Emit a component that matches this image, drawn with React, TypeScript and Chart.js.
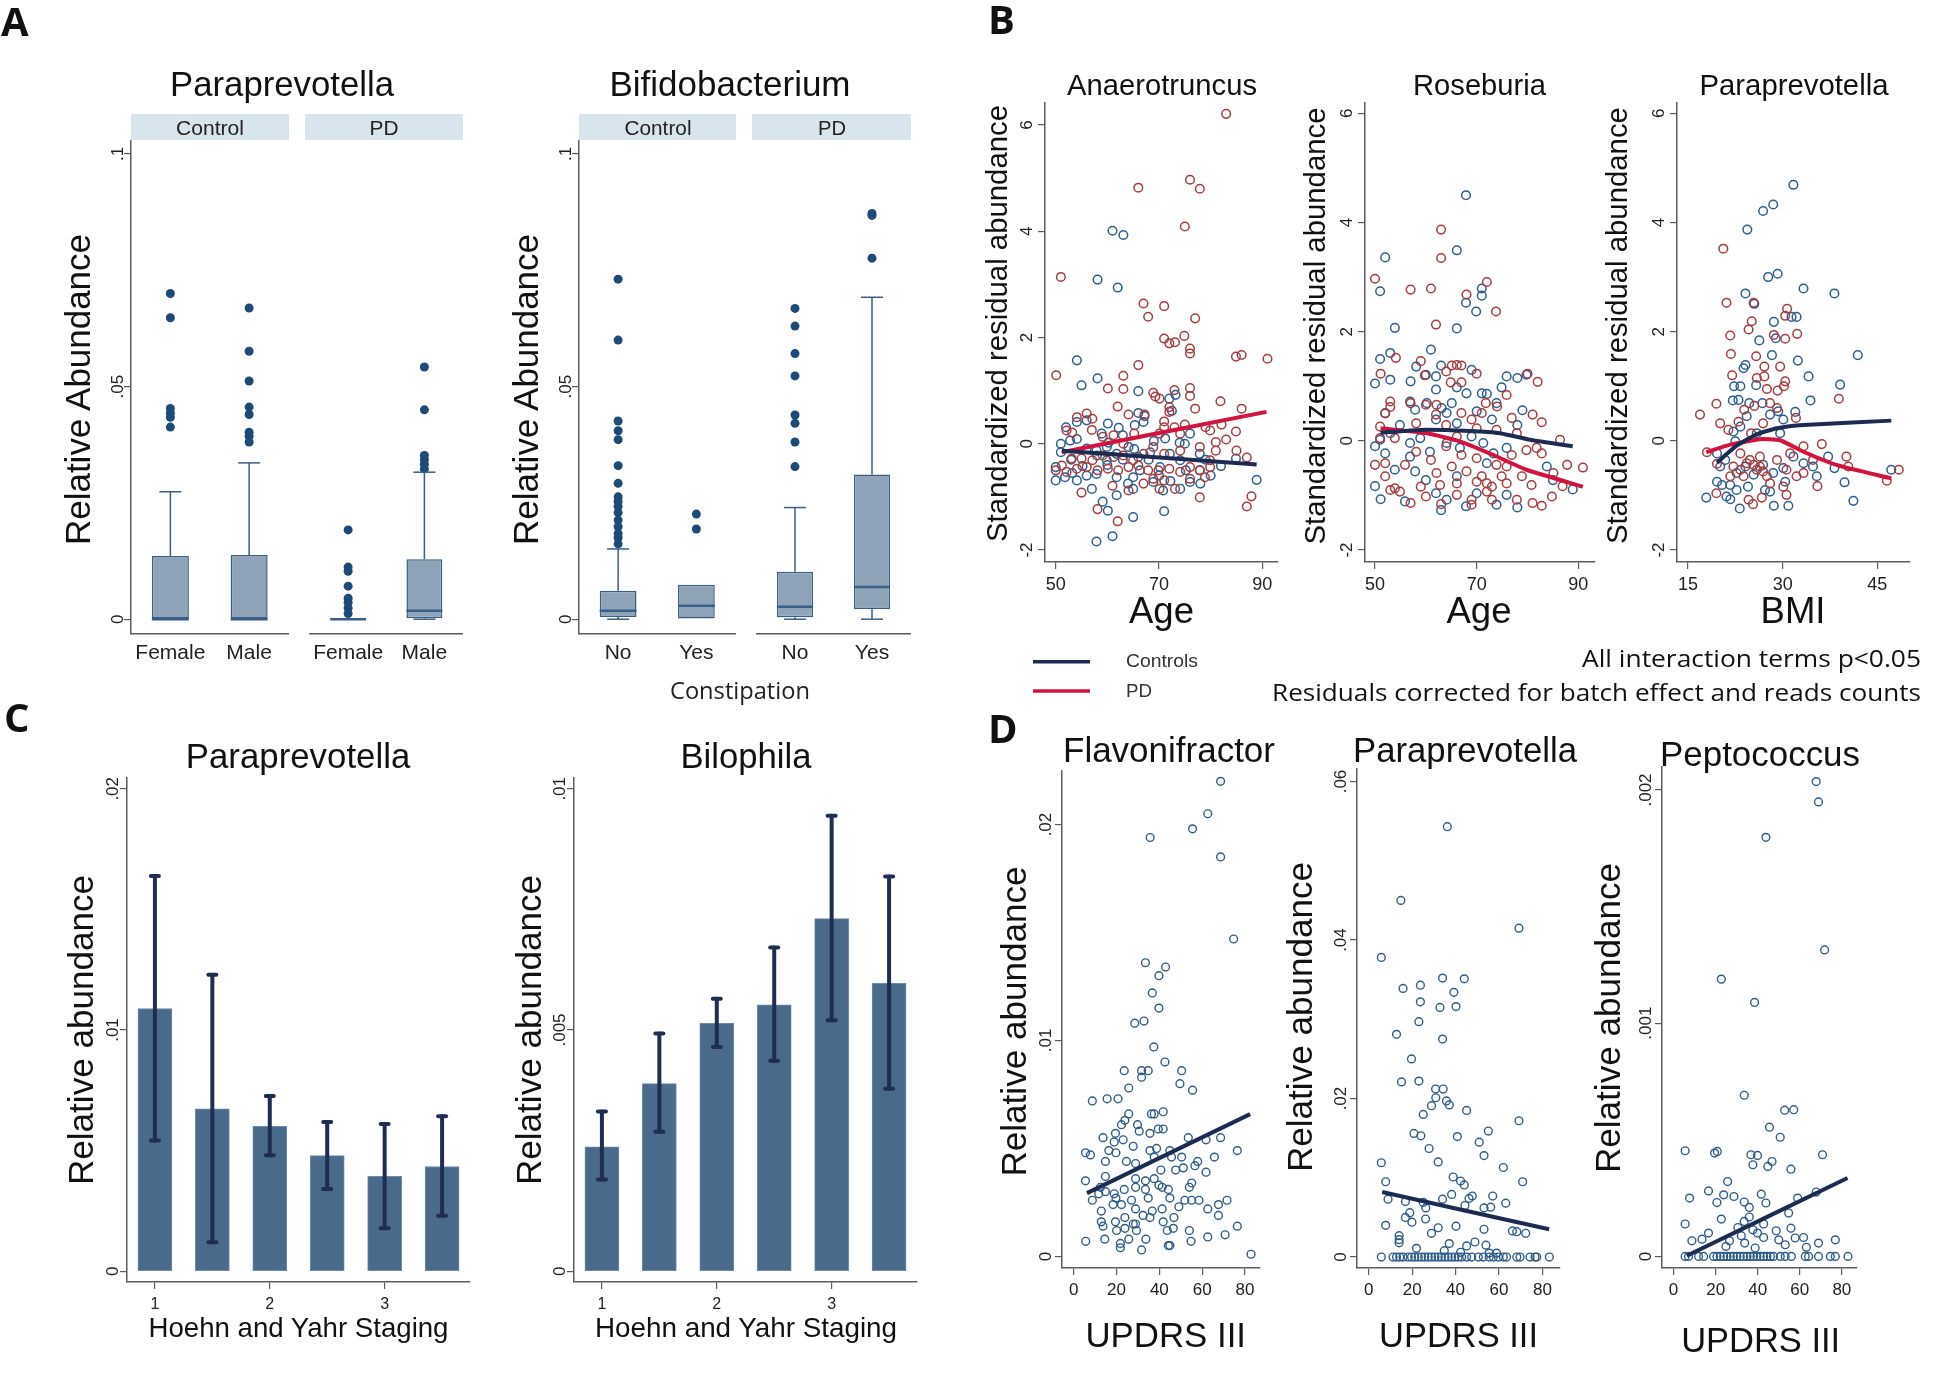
import React, { useEffect, useRef } from 'react';
import { Chart, registerables } from 'chart.js';

Chart.register(...registerables);

type Pt = [number, number];
type Area = { x: number; y: number; w: number; h: number };
type Pad = { l: number; r: number; t: number; b: number };

const FONT = '"Liberation Sans", Arial, sans-serif';
const CAL = '"Open Sans", "Noto Sans", sans-serif';

// ---------------- colours ----------------
const AXIS = '#5c5c5c';
const TICKTXT = '#222222';
const BOX_FILL = '#8fa3b8';
const BOX_LINE = '#3a5f86';
const OUT_DOT = '#1e4a76';
const STRIP = '#d9e5ec';
const BLUE = '#2c5e8e';
const RED = '#a63c40';
const NAVY = '#1c2b52';
const CRIMSON = '#d3123e';
const DBLUE = '#2f5c87';
const BAR = '#496a8b';
const BAR_EDGE = '#6d8aa6';
const ERR = '#1f2d52';

// ---------------- DATA: panel A (box plots) ----------------
const aYTicks = [0, 0.05, 0.1];
const aYLabels = ['0', '.05', '.1'];

const sexCats = ['Female', 'Male'];
const paraCtrlQ1 = [0, 0];
const paraCtrlMed = [0, 0];
const paraCtrlQ3 = [0.0136, 0.0138];
const paraCtrlLo = [0, 0];
const paraCtrlHi = [0.0274, 0.0336];
const paraCtrlOut = [
  [0.07, 0.0648, 0.0453, 0.0443, 0.0434, 0.0413],
  [0.0669, 0.0576, 0.0512, 0.0456, 0.044, 0.0402, 0.0393, 0.0381],
];
const paraPdQ1 = [0, 0.0002];
const paraPdMed = [0, 0.0018];
const paraPdQ3 = [0, 0.0129];
const paraPdLo = [0, 0];
const paraPdHi = [0, 0.0316];
const paraPdOut = [
  [0.0192, 0.0112, 0.0103, 0.0071, 0.0045, 0.0036, 0.0024, 0.0012],
  [0.0542, 0.045, 0.0352, 0.0343, 0.0333, 0.0323],
];

const constCats = ['No', 'Yes'];
const bifCtrlQ1 = [0.0005, 0];
const bifCtrlMed = [0.0018, 0.0029];
const bifCtrlQ3 = [0.0061, 0.0074];
const bifCtrlLo = [0, 0];
const bifCtrlHi = [0.0151, 0.0074];
const bifCtrlOut = [
  [0.0731, 0.06, 0.0426, 0.0405, 0.0386, 0.033, 0.0292, 0.0263, 0.0253, 0.0242, 0.0229, 0.0213, 0.0199, 0.0184, 0.0175, 0.0162],
  [0.0226, 0.0194],
];
const bifPdQ1 = [0.0004, 0.0022];
const bifPdMed = [0.0027, 0.0069];
const bifPdQ3 = [0.0102, 0.0311];
const bifPdLo = [0, 0];
const bifPdHi = [0.024, 0.0692];
const bifPdOut = [
  [0.0668, 0.063, 0.0571, 0.0523, 0.0439, 0.0421, 0.0381, 0.0328],
  [0.0872, 0.0868, 0.0776],
];

// ---------------- DATA: panel B (residual scatter) ----------------
const bYTicks = [-2, 0, 2, 4, 6];
const bYLabels = ['-2', '0', '2', '4', '6'];
const ageTicks = [50, 70, 90];
const bmiTicks = [15, 30, 45];

const anaeroCtrl: Pt[] = [
  [57.9, -1.84], [61.0, -1.74], [65.0, -1.38], [71.0, -1.27], [60.1, -1.26], [59.1, -1.09], [88.9, -0.68], [84.9, -0.28],
  [61.0, 4.01], [63.1, 3.93], [58.1, 3.09], [62.0, 2.94], [54.1, 1.57], [55.0, 1.1], [58.1, 1.23], [66.0, 0.99], [72.0, 0.85],
  [66.0, 0.58], [67.0, 0.41], [60.1, 0.38], [52.0, 0.31], [54.1, 0.41], [56.0, 0.44], [63.0, 0.16], [58.9, 0.19], [76.0, 0.19],
  [75.0, 0.0], [51.0, 0.0], [51.0, -0.16], [52.8, 0.06], [54.1, 0.09], [56.0, -0.09], [57.9, -0.13], [59.9, -0.06], [61.8, -0.19],
  [64.1, -0.06], [66.0, -0.25], [68.3, -0.16], [72.1, -0.19], [74.1, -0.31], [77.9, -0.19], [50.0, -0.44], [50.0, -0.69],
  [51.8, -0.63], [54.1, -0.69], [56.0, -0.6], [57.9, -0.57], [59.9, -0.31], [61.8, -0.97], [61.8, -0.63], [65.0, -0.85],
  [65.0, -0.63], [68.9, -0.72], [70.8, -0.88], [74.1, -0.85], [76.0, -0.72], [70.2, -0.44], [66.3, -0.5], [77.9, -0.5],
  [60.0, -0.4], [63.0, -0.3], [65.2, -0.1], [69.0, 0.05], [72.5, 0.62], [73.2, 0.92], [74.0, 0.02], [79.0, -0.3], [82.0, -0.42],
  [53.0, -0.3], [55.2, -0.42], [58.0, -0.22], [60.2, 0.02], [62.2, 0.3], [65.3, 0.35], [67.2, 0.52], [70.0, -0.6], [72.2, -0.7],
  [75.2, -0.5], [78.0, -0.75], [80.0, -0.6], [64.0, -0.75], [57.0, -0.85], [53.2, -0.55], [68.0, -0.3], [71.2, 0.1],
];
const anaeroPd: Pt[] = [
  [83.0, 6.21], [76.0, 4.97], [77.9, 4.8], [66.0, 4.82], [75.0, 4.09], [51.0, 3.14], [67.0, 2.64], [71.0, 2.59], [67.9, 2.39],
  [77.0, 2.36], [71.0, 1.98], [72.0, 1.89], [73.1, 1.91], [74.9, 2.03], [76.0, 1.79], [76.0, 1.7], [84.9, 1.64], [86.0, 1.67],
  [91.0, 1.6], [50.1, 1.29], [66.0, 1.48], [63.1, 1.28], [60.1, 1.04], [63.1, 1.03], [68.9, 0.96], [69.3, 0.89], [70.1, 0.85],
  [73.0, 1.01], [76.0, 1.05], [76.0, 0.9], [81.9, 0.8], [62.0, 0.7], [72.0, 0.69], [72.0, 0.6], [77.0, 0.66], [86.0, 0.66],
  [64.1, 0.55], [67.2, 0.55], [54.1, 0.5], [56.0, 0.57], [57.1, 0.47], [59.1, 0.13], [52.1, 0.25], [53.2, 0.21], [57.0, 0.26],
  [71.0, 0.42], [71.0, 0.31], [75.0, 0.36], [79.0, 0.31], [79.9, 0.25], [82.1, 0.36], [84.9, 0.23], [73.0, 0.31], [70.1, 0.19],
  [74.1, 0.19], [65.2, 0.19], [61.2, 0.16], [63.1, 0.0], [81.0, 0.03], [83.0, 0.08], [85.0, -0.13], [87.0, -0.26], [81.0, -0.13],
  [79.9, -0.31], [77.9, -0.06], [74.1, -0.13], [71.0, -0.19], [68.9, -0.06], [67.0, -0.19], [65.0, -0.31], [63.1, -0.22],
  [61.2, -0.25], [59.1, -0.22], [57.1, -0.31], [55.0, -0.28], [53.1, -0.28], [51.2, -0.41], [50.0, -0.5], [52.1, -0.53],
  [54.1, -0.47], [56.0, -0.44], [58.1, -0.5], [60.1, -0.47], [62.1, -0.5], [64.1, -0.44], [66.0, -0.41], [67.9, -0.5],
  [69.9, -0.5], [72.0, -0.47], [74.1, -0.53], [76.0, -0.44], [77.9, -0.5], [79.9, -0.44], [68.9, -0.66], [71.0, -0.69],
  [73.1, -0.85], [70.1, -0.85], [64.1, -0.88], [61.0, -0.79], [67.0, -0.75], [76.0, -0.66], [78.9, -0.63], [55.0, -0.92],
  [58.1, -1.23], [62.0, -1.46], [77.9, -1.01], [87.0, -1.18], [87.9, -0.99],
];
const anaeroCtrlFit: Pt[] = [[51.2, -0.13], [88.9, -0.39]];
const anaeroPdFit: Pt[] = [[51.2, -0.16], [90.8, 0.6]];

const roseCtrl: Pt[] = [
  [67.9, 4.5], [66.1, 3.49], [52.0, 3.36], [51.0, 2.74], [71.0, 2.79], [71.0, 2.66], [67.9, 2.53], [69.9, 2.37], [66.1, 2.06],
  [53.9, 2.07], [61.0, 1.67], [51.0, 1.5], [53.0, 1.61], [50.0, 1.05], [53.0, 1.12], [57.0, 1.09], [58.1, 1.36], [63.0, 1.38],
  [60.0, 1.21], [62.0, 1.18], [66.1, 0.98], [69.0, 1.3], [75.9, 1.18], [78.0, 1.15], [79.8, 1.21], [74.9, 0.98], [68.0, 0.87],
  [71.0, 0.87], [72.0, 0.86], [62.0, 0.94], [56.9, 0.72], [57.9, 0.57], [60.2, 0.69], [63.1, 0.6], [65.1, 0.69], [64.1, 0.51],
  [73.9, 0.69], [70.0, 0.54], [79.0, 0.56], [52.0, 0.51], [54.9, 0.29], [62.0, 0.39], [66.1, 0.32], [73.0, 0.39], [78.0, 0.29],
  [51.0, 0.02], [50.0, -0.1], [53.0, 0.14], [56.9, -0.04], [58.9, 0.05], [60.8, -0.2], [64.1, -0.04], [66.7, -0.13], [69.0, 0.08],
  [71.3, -0.04], [73.3, -0.23], [75.9, -0.13], [50.0, -0.83], [51.1, -1.07], [52.0, -0.23], [53.9, -0.53], [55.9, -1.11],
  [56.9, -0.29], [57.9, -0.56], [60.0, -0.72], [62.0, -0.96], [63.0, -1.27], [64.1, -1.08], [66.1, -0.65], [67.9, -1.2],
  [70.0, -0.96], [72.0, -0.41], [73.9, -1.17], [75.9, -0.99], [78.0, -1.22], [83.8, -0.47], [85.0, -0.72], [88.9, -0.89],
];
const rosePd: Pt[] = [
  [63.0, 3.87], [63.0, 3.35], [50.0, 2.97], [57.0, 2.77], [61.0, 2.79], [72.0, 2.91], [68.0, 2.68], [73.8, 2.37], [62.0, 2.13],
  [54.1, 1.52], [51.1, 1.23], [59.0, 1.46], [59.8, 1.2], [64.0, 1.27], [65.1, 1.38], [66.1, 1.39], [67.0, 1.38], [70.0, 1.23],
  [67.0, 1.07], [64.9, 1.07], [80.0, 1.23], [82.0, 1.08], [75.9, 0.84], [71.8, 0.69], [74.0, 0.63], [53.0, 0.72], [53.0, 0.62],
  [52.0, 0.5], [57.0, 0.69], [58.1, 0.32], [60.0, 0.66], [62.1, 0.66], [62.0, 0.48], [67.0, 0.51], [69.0, 0.39], [71.0, 0.51],
  [76.9, 0.42], [81.0, 0.48], [82.8, 0.34], [51.0, 0.26], [64.0, 0.29], [70.0, 0.23], [73.9, 0.2], [77.9, 0.14], [66.1, 0.08],
  [86.4, 0.02], [50.0, -0.44], [52.0, -0.65], [53.9, 0.05], [53.9, -0.87], [55.9, -0.44], [58.1, -0.2], [59.0, -0.84],
  [60.0, -1.02], [61.0, -0.35], [62.1, -0.59], [62.8, -0.81], [63.0, -1.16], [64.0, -0.1], [65.1, -0.47], [66.1, -0.78],
  [66.1, -0.99], [67.0, -0.26], [68.0, -0.56], [69.0, -1.08], [69.0, -1.17], [70.0, -0.32], [70.0, -0.75], [71.0, -0.65],
  [72.0, -0.78], [72.0, -0.93], [73.0, -1.08], [73.0, -0.84], [73.9, -0.44], [74.9, -0.65], [75.9, -0.47], [75.9, -0.78],
  [76.9, -0.26], [77.9, -1.08], [78.9, -0.65], [79.8, -0.17], [80.8, -0.81], [81.0, -1.14], [81.8, -0.13], [82.8, -0.23],
  [82.8, -1.19], [84.8, -1.02], [85.1, -0.59], [86.9, -0.83], [87.8, -0.44], [90.9, -0.49], [57.0, -1.14], [54.9, -0.93],
  [53.0, -0.9], [52.0, -0.41], [51.0, 0.05],
];
const roseCtrlFit: Pt[] = [[51.1, 0.15], [58.9, 0.2], [68.7, 0.18], [74.6, 0.14], [80.5, 0.02], [88.9, -0.1]];
const rosePdFit: Pt[] = [[51.1, 0.23], [60.2, 0.14], [66.7, -0.01], [73.3, -0.26], [79.8, -0.53], [90.9, -0.84]];

const paraBmiCtrl: Pt[] = [
  [31.7, 4.69], [28.5, 4.33], [26.9, 4.21], [24.4, 3.87], [27.7, 3.0], [29.2, 3.06], [33.3, 2.79], [38.2, 2.7], [24.1, 2.7],
  [25.5, 2.51], [31.4, 2.27], [32.2, 2.27], [28.6, 2.18], [26.3, 1.84], [28.9, 1.88], [28.3, 1.57], [41.9, 1.57], [32.4, 1.47],
  [24.1, 1.39], [23.8, 1.33], [34.1, 1.18], [39.1, 1.03], [22.3, 1.0], [23.3, 1.0], [25.8, 1.02], [22.1, 0.74], [23.0, 0.75],
  [24.7, 0.69], [26.8, 0.69], [34.4, 0.74], [29.3, 0.54], [32.0, 0.53], [28.0, 0.48], [30.1, 0.39], [24.3, 0.45], [23.3, 0.26],
  [22.2, 0.17], [25.9, 0.14], [29.6, 0.14], [22.5, -0.01], [19.6, -0.23], [20.1, -0.47], [20.9, -0.35], [22.7, -0.59],
  [24.1, -0.47], [25.4, -0.62], [26.9, -0.44], [28.5, -0.59], [30.1, -0.5], [31.7, -0.29], [33.3, -0.41], [34.8, -0.47],
  [35.4, -0.65], [37.2, -0.29], [38.2, -0.5], [19.6, -0.75], [20.4, -0.81], [21.7, -0.81], [22.7, -0.9], [24.5, -0.84],
  [27.2, -0.9], [28.0, -0.93], [30.4, -0.75], [17.9, -1.04], [21.1, -1.02], [21.7, -1.07], [23.2, -1.24], [28.6, -1.19],
  [30.9, -1.19], [39.8, -0.76], [41.2, -1.1], [47.2, -0.53],
];
const paraBmiPd: Pt[] = [
  [20.6, 3.52], [21.1, 2.53], [25.4, 2.53], [30.7, 2.42], [30.4, 2.29], [25.1, 2.19], [24.6, 2.04], [21.7, 1.93], [32.3, 1.96],
  [28.6, 1.94], [30.4, 1.87], [21.8, 1.59], [25.8, 1.55], [27.1, 1.36], [29.6, 1.36], [22.0, 1.2], [25.9, 1.15], [27.1, 1.18],
  [30.4, 1.09], [30.2, 1.0], [27.5, 0.95], [29.2, 0.92], [38.9, 0.77], [19.5, 0.68], [16.9, 0.48], [23.9, 0.57], [25.5, 0.64],
  [28.0, 0.69], [29.1, 0.6], [32.1, 0.42], [20.1, 0.32], [23.0, 0.35], [21.4, 0.2], [26.9, 0.32], [25.0, 0.14], [18.0, -0.21],
  [19.6, -0.42], [19.5, -0.96], [22.2, -0.47], [23.3, -0.23], [24.8, -0.35], [25.9, -0.53], [26.4, -0.29], [27.5, -0.65],
  [29.1, -0.35], [30.6, -0.53], [31.2, -0.23], [33.3, -0.1], [33.3, -0.59], [34.8, -0.35], [36.2, -0.06], [35.5, -0.83],
  [40.1, -0.29], [40.4, -0.47], [21.7, -0.65], [23.8, -0.65], [24.6, -1.08], [25.3, -1.16], [26.7, -1.04], [28.0, -0.78],
  [30.6, -0.99], [32.2, -0.65], [30.1, -0.84], [23.3, -0.53], [24.3, -0.41], [25.4, -0.44], [26.4, -0.47], [26.9, -0.56],
  [46.5, -0.73], [48.4, -0.53],
];
const paraBmiCtrlFit: Pt[] = [[19.6, -0.4], [22.7, -0.09], [25.9, 0.12], [29.1, 0.23], [33.3, 0.29], [47.2, 0.37]];
const paraBmiPdFit: Pt[] = [[17.9, -0.21], [21.7, -0.07], [26.4, 0.03], [29.6, 0.01], [33.3, -0.2], [38.5, -0.44], [47.2, -0.69]];

// ---------------- DATA: panel C (Hoehn & Yahr bars) ----------------
const hyStage = [1, 1.5, 2, 2.5, 3, 3.5];
const hyTicks = [1, 2, 3];
const hyLabels = ['1', '2', '3'];
const paraHYMean = [0.01089, 0.00673, 0.00601, 0.00479, 0.00393, 0.00434];
const paraHYHi = [0.01638, 0.01229, 0.00726, 0.00619, 0.0061, 0.00642];
const paraHYLo = [0.00542, 0.0012, 0.00481, 0.00341, 0.00178, 0.0023];
const biloHYMean = [0.00258, 0.00389, 0.00514, 0.00552, 0.00731, 0.00597];
const biloHYHi = [0.00331, 0.00493, 0.00565, 0.00671, 0.00944, 0.00818];
const biloHYLo = [0.0019, 0.00289, 0.00465, 0.00436, 0.0052, 0.00378];
const cParaYTicks = [0, 0.01, 0.02];
const cParaYLabels = ['0', '.01', '.02'];
const cBiloYTicks = [0, 0.005, 0.01];
const cBiloYLabels = ['0', '.005', '.01'];

// ---------------- DATA: panel D (UPDRS III scatter) ----------------
const updrsTicks = [0, 20, 40, 60, 80];
const updrsLabels = ['0', '20', '40', '60', '80'];
const flavoPts: Pt[] = [
  [68.6, 0.022], [62.6, 0.0205], [55.5, 0.0198], [35.7, 0.0194], [68.6, 0.0185], [74.7, 0.0147], [33.5, 0.0136], [42.9, 0.0134],
  [39.8, 0.013], [36.7, 0.0122], [39.8, 0.0115], [28.5, 0.0108], [32.8, 0.0109], [37.4, 0.0097], [42.6, 0.009], [23.6, 0.0086],
  [31.7, 0.0086], [34.8, 0.0086], [31.7, 0.0083], [50.4, 0.0086], [49.6, 0.008], [25.7, 0.0078], [55.5, 0.0077], [8.7, 0.0072],
  [15.6, 0.0073], [20.7, 0.0073], [25.7, 0.0066], [36.3, 0.0066], [37.6, 0.0066], [41.8, 0.0067], [22.3, 0.0061], [23.9, 0.0063],
  [29.8, 0.0061], [30.6, 0.0058], [35.6, 0.0057], [39.5, 0.0059], [41.8, 0.0059], [13.7, 0.0055], [19.5, 0.0057], [23.1, 0.0054],
  [18.9, 0.0053], [27.8, 0.0051], [16.4, 0.0049], [5.5, 0.0048], [7.8, 0.0047], [19.7, 0.0048], [35.6, 0.0049], [38.7, 0.005],
  [44.9, 0.0049], [45.7, 0.0046], [50.4, 0.0046], [53.5, 0.0055], [61.8, 0.0054], [68.6, 0.0055], [76.4, 0.0049], [65.7, 0.0046],
  [57.9, 0.0044], [56.6, 0.0042], [14.8, 0.0044], [24.6, 0.0044], [28.9, 0.0043], [37.6, 0.0046], [40.7, 0.004], [47.6, 0.004],
  [51.2, 0.0041], [61.8, 0.0039], [5.5, 0.0035], [12.5, 0.0032], [14.8, 0.0037], [8.7, 0.0026], [11.7, 0.0029], [14.8, 0.003],
  [18.9, 0.0029], [23.6, 0.0031], [28.9, 0.0036], [28.9, 0.0032], [33.5, 0.0035], [33.5, 0.0031], [37.6, 0.0036], [39.8, 0.0033],
  [41.3, 0.0032], [44.2, 0.0031], [44.9, 0.0027], [55.1, 0.0034], [54.0, 0.0032], [51.9, 0.0026], [55.1, 0.0026], [58.5, 0.0026],
  [49.1, 0.0023], [62.6, 0.0022], [67.6, 0.0024], [67.6, 0.0019], [71.6, 0.0026], [18.4, 0.0024], [22.3, 0.0024], [27.0, 0.0026],
  [28.9, 0.0022], [34.8, 0.0027], [36.7, 0.0021], [41.3, 0.0022], [12.9, 0.0021], [12.9, 0.0016], [13.7, 0.0014], [14.5, 0.0008],
  [19.5, 0.0016], [23.9, 0.0018], [23.9, 0.0013], [25.7, 0.0008], [28.9, 0.0015], [29.3, 0.0012], [32.4, 0.0019], [35.6, 0.0018],
  [41.8, 0.0016], [43.7, 0.0012], [46.8, 0.0018], [46.5, 0.0013], [54.0, 0.0012], [54.8, 0.0007], [5.6, 0.0007], [21.8, 0.0006],
  [21.8, 0.0004], [31.7, 0.0003], [33.7, 0.0008], [44.2, 0.0005], [44.9, 0.0005], [62.6, 0.0009], [70.7, 0.001], [76.4, 0.0014],
  [82.8, 0.0001], [20.0, 0.0012], [27.8, 0.0015], [19.7, 0.0027],
];
const flavoFit: Pt[] = [[6.2, 0.00293], [82.4, 0.00659]];

const paraUpPts: Pt[] = [
  [36.2, 0.0543], [14.8, 0.045], [69.2, 0.0415], [5.8, 0.0378], [34.0, 0.0352], [44.0, 0.0351], [15.8, 0.0339], [23.8, 0.0343],
  [39.2, 0.0334], [23.8, 0.0322], [32.8, 0.0315], [40.2, 0.0316], [23.1, 0.0297], [12.8, 0.0281], [34.0, 0.0275], [19.7, 0.025],
  [15.1, 0.0221], [23.1, 0.0222], [30.8, 0.0212], [34.3, 0.0212], [30.9, 0.0201], [35.8, 0.0197], [37.1, 0.0192], [28.9, 0.0191],
  [25.1, 0.018], [45.1, 0.0185], [69.2, 0.0172], [55.1, 0.0159], [20.8, 0.0156], [24.0, 0.0153], [40.8, 0.0152], [50.9, 0.0145],
  [27.8, 0.0137], [53.1, 0.0128], [32.0, 0.012], [5.8, 0.0119], [62.0, 0.0113], [7.8, 0.0095], [70.9, 0.0095], [38.9, 0.0101],
  [42.3, 0.0096], [44.0, 0.0091], [8.9, 0.0073], [16.9, 0.007], [25.1, 0.0069], [26.3, 0.0062], [34.0, 0.0073], [38.2, 0.0079],
  [46.2, 0.0074], [47.7, 0.0077], [57.1, 0.0077], [63.1, 0.0068], [44.3, 0.0065], [56.2, 0.0063], [53.1, 0.0062], [18.9, 0.0056],
  [16.9, 0.005], [19.9, 0.0044], [26.2, 0.0048], [7.8, 0.004], [32.0, 0.0037], [40.2, 0.0039], [53.1, 0.0035], [28.9, 0.003],
  [66.2, 0.0033], [68.2, 0.0032], [72.3, 0.003], [14.0, 0.0027], [14.0, 0.0022], [14.0, 0.0018], [48.9, 0.0019], [45.1, 0.0014],
  [54.0, 0.0015], [22.0, 0.0011], [37.1, 0.0017], [34.8, 0.0008], [58.9, 0.0005], [55.5, 0.0005], [42.3, 0.0006],
];
const paraUpZeroX = [
  5.8, 11.2, 12.8, 14.3, 15.8, 18.2, 19.7, 21.2, 22.8, 24.3, 25.8, 27.4, 28.9, 30.5, 32.0, 33.5, 35.1, 36.6, 38.2, 39.7, 41.2,
  42.8, 45.1, 47.4, 50.5, 52.8, 55.5, 57.4, 59.7, 62.0, 63.5, 68.2, 69.7, 74.3, 76.6, 77.4, 83.2,
];
const paraUpFit: Pt[] = [[6.2, 0.0082], [83.1, 0.0035]];

const peptoPts: Pt[] = [
  [67.8, 0.002036], [68.9, 0.001949], [43.9, 0.001797], [71.8, 0.001314], [22.7, 0.001189], [38.5, 0.001089], [33.6, 0.000691],
  [52.8, 0.000627], [57.1, 0.000629], [45.6, 0.000554], [50.7, 0.000511], [5.5, 0.000453], [19.5, 0.000443], [20.8, 0.00045],
  [36.8, 0.000436], [39.9, 0.000433], [37.7, 0.000393], [44.8, 0.000386], [46.8, 0.000407], [55.8, 0.000374], [70.8, 0.000436],
  [25.7, 0.000321], [16.6, 0.000281], [23.8, 0.000264], [28.7, 0.000257], [7.6, 0.00025], [41.7, 0.000267], [59.0, 0.00025],
  [67.8, 0.000276], [20.6, 0.000231], [33.6, 0.000233], [36.0, 0.00021], [43.9, 0.000229], [22.7, 0.00016], [33.6, 0.00015],
  [36.0, 0.000169], [42.8, 0.000139], [54.7, 0.000186], [5.5, 0.000139], [30.6, 0.000124], [37.7, 0.000114], [39.9, 0.0001],
  [48.8, 0.00011], [55.8, 0.000121], [16.6, 0.0001], [8.7, 0.000067], [13.5, 0.000074], [26.6, 0.000067], [32.2, 0.000089],
  [33.8, 0.000057], [42.8, 0.000081], [50.0, 0.000071], [57.8, 0.000079], [61.8, 0.000081], [68.9, 0.000057], [76.9, 0.000071],
  [24.9, 0.000043], [38.8, 0.000036], [53.1, 0.00005], [63.1, 0.000039],
];
const peptoZeroX = [
  5.5, 7.1, 11.9, 14.3, 19.0, 20.6, 22.2, 23.8, 25.4, 27.0, 28.5, 30.1, 31.7, 33.3, 34.9, 36.5, 38.0, 39.6, 41.2, 42.8, 44.4,
  46.0, 47.5, 50.7, 53.1, 56.0, 62.6, 64.2, 68.9, 74.5, 76.9, 82.9,
];
const peptoFit: Pt[] = [[6.3, 0.000003], [82.7, 0.000336]];
const dParaYTicks = [0, 0.02, 0.04, 0.06];
const dParaYLabels = ['0', '.02', '.04', '.06'];
const dFlavoYTicks = [0, 0.01, 0.02];
const dFlavoYLabels = ['0', '.01', '.02'];
const dPeptoYTicks = [0, 0.001, 0.002];
const dPeptoYLabels = ['0', '.001', '.002'];

// ---------------- helpers ----------------
function ChartBox({ area, pad, make }: { area: Area; pad: Pad; make: (pad: Pad) => any }) {
  const ref = useRef<HTMLCanvasElement | null>(null);
  useEffect(() => {
    if (!ref.current) return;
    const chart = new Chart(ref.current, make(pad));
    return () => chart.destroy();
  }, []);
  const w = area.w + pad.l + pad.r;
  const h = area.h + pad.t + pad.b;
  return (
    <canvas
      ref={ref}
      width={w}
      height={h}
      style={{ position: 'absolute', left: area.x - pad.l, top: area.y - pad.t, width: w, height: h, display: 'block' }}
    />
  );
}

function baseOptions(scales: any, pad: Pad) {
  return {
    responsive: false,
    animation: false,
    devicePixelRatio: 1,
    events: [],
    layout: { padding: { left: 0, right: pad.r, top: pad.t, bottom: 0 } },
    plugins: { legend: { display: false }, tooltip: { enabled: false } },
    scales,
  };
}

function linY(min: number, max: number, ticks: number[], pad: Pad, show = true) {
  return {
    type: 'linear',
    min,
    max,
    display: show,
    afterBuildTicks: (s: any) => {
      s.ticks = ticks.map((v) => ({ value: v }));
    },
    afterFit: (s: any) => {
      s.width = pad.l;
    },
    ticks: { display: false },
    grid: { drawOnChartArea: false, drawTicks: true, tickLength: 7, color: AXIS, lineWidth: 1.2 },
    border: { display: true, color: AXIS, width: 1.5 },
  };
}

function linX(min: number, max: number, ticks: number[], labels: string[], pad: Pad, size: number, padding: number) {
  return {
    type: 'linear',
    min,
    max,
    offset: false,
    afterBuildTicks: (s: any) => {
      s.ticks = ticks.map((v) => ({ value: v }));
    },
    afterFit: (s: any) => {
      s.height = pad.b;
    },
    ticks: {
      autoSkip: false,
      maxRotation: 0,
      minRotation: 0,
      padding,
      color: TICKTXT,
      font: { family: FONT, size },
      callback: (_v: any, i: number) => labels[i],
    },
    grid: { drawOnChartArea: false, drawTicks: true, tickLength: 7, color: AXIS, lineWidth: 1.2, offset: false },
    border: { display: true, color: AXIS, width: 1.5 },
  };
}

function catX(labels: string[], pad: Pad, size: number, padding: number) {
  return {
    type: 'category',
    labels,
    offset: true,
    afterFit: (s: any) => {
      s.height = pad.b;
    },
    ticks: { padding, color: TICKTXT, font: { family: FONT, size } },
    grid: { drawOnChartArea: false, drawTicks: false, offset: true },
    border: { display: true, color: AXIS, width: 1.5 },
  };
}

function yLabelPlugin(values: number[], labels: string[], gap: number, size: number) {
  return {
    id: 'rotYLabels',
    afterDraw(chart: any) {
      const s = chart.scales.y;
      const ctx = chart.ctx;
      ctx.save();
      ctx.font = `${size}px ${FONT}`;
      ctx.fillStyle = TICKTXT;
      ctx.textAlign = 'center';
      ctx.textBaseline = 'alphabetic';
      values.forEach((v, i) => {
        const y = s.getPixelForValue(v);
        ctx.save();
        ctx.translate(chart.chartArea.left - gap, y);
        ctx.rotate(-Math.PI / 2);
        ctx.fillText(labels[i], 0, 0);
        ctx.restore();
      });
      ctx.restore();
    },
  };
}

function boxPlugin(q1: number[], med: number[], q3: number[], lo: number[], hi: number[]) {
  return {
    id: 'boxWhiskers',
    afterDatasetsDraw(chart: any) {
      const meta = chart.getDatasetMeta(0);
      const ys = chart.scales.y;
      const ctx = chart.ctx;
      const seg = (x1: number, y1: number, x2: number, y2: number) => {
        ctx.beginPath();
        ctx.moveTo(x1, y1);
        ctx.lineTo(x2, y2);
        ctx.stroke();
      };
      ctx.save();
      ctx.strokeStyle = BOX_LINE;
      meta.data.forEach((bar: any, i: number) => {
        const x = bar.x;
        const half = bar.width / 2;
        const cap = 11;
        ctx.lineWidth = 1.5;
        if (hi[i] > q3[i]) {
          seg(x, ys.getPixelForValue(q3[i]), x, ys.getPixelForValue(hi[i]));
          seg(x - cap, ys.getPixelForValue(hi[i]), x + cap, ys.getPixelForValue(hi[i]));
        }
        if (lo[i] < q1[i]) {
          seg(x, ys.getPixelForValue(q1[i]), x, ys.getPixelForValue(lo[i]));
          seg(x - cap, ys.getPixelForValue(lo[i]), x + cap, ys.getPixelForValue(lo[i]));
        }
        ctx.lineWidth = 2.5;
        seg(x - half, ys.getPixelForValue(med[i]), x + half, ys.getPixelForValue(med[i]));
      });
      ctx.restore();
    },
  };
}

function errPlugin(lo: number[], hi: number[]) {
  return {
    id: 'errBars',
    afterDatasetsDraw(chart: any) {
      const meta = chart.getDatasetMeta(0);
      const ys = chart.scales.y;
      const ctx = chart.ctx;
      const seg = (x1: number, y1: number, x2: number, y2: number) => {
        ctx.beginPath();
        ctx.moveTo(x1, y1);
        ctx.lineTo(x2, y2);
        ctx.stroke();
      };
      ctx.save();
      ctx.strokeStyle = ERR;
      ctx.lineWidth = 4;
      ctx.lineCap = 'round';
      meta.data.forEach((bar: any, i: number) => {
        const x = bar.x;
        const yl = ys.getPixelForValue(lo[i]);
        const yh = ys.getPixelForValue(hi[i]);
        seg(x, yl, x, yh);
        seg(x - 4, yh, x + 4, yh);
        seg(x - 4, yl, x + 4, yl);
      });
      ctx.restore();
    },
  };
}

const A_YMIN = -0.00318;
const A_YMAX = 0.10279;

function boxMaker(
  cats: string[], q1: number[], med: number[], q3: number[], lo: number[], hi: number[], outs: number[][], showY: boolean,
) {
  return (pad: Pad) => {
    const outPts = outs.flatMap((arr, i) => arr.map((v) => ({ x: cats[i], y: v })));
    const plugins: any[] = [boxPlugin(q1, med, q3, lo, hi)];
    if (showY) plugins.push(yLabelPlugin(aYTicks, aYLabels, 8.5, 17));
    return {
      type: 'bar',
      data: {
        labels: cats,
        datasets: [
          {
            type: 'bar',
            data: cats.map((_, i) => [q1[i], q3[i]]),
            backgroundColor: BOX_FILL,
            borderColor: BOX_LINE,
            borderWidth: 1.5,
            borderSkipped: false,
            barPercentage: 0.47,
            categoryPercentage: 1,
            order: 2,
          },
          {
            type: 'scatter',
            data: outPts,
            pointRadius: 4.5,
            pointBackgroundColor: OUT_DOT,
            pointBorderColor: OUT_DOT,
            pointBorderWidth: 0,
            order: 1,
          },
        ],
      },
      options: baseOptions({ x: catX(cats, pad, 21, 7), y: linY(A_YMIN, A_YMAX, aYTicks, pad, showY) }, pad),
      plugins,
    };
  };
}

const xy = (p: Pt[]) => p.map(([x, y]) => ({ x, y }));
const dots = (p: Pt[], color: string, r: number, bw: number, order: number) => ({
  data: xy(p),
  showLine: false,
  pointRadius: r,
  pointBorderWidth: bw,
  pointBorderColor: color,
  pointBackgroundColor: 'rgba(0,0,0,0)',
  order,
});
const fit = (p: Pt[], color: string, w: number) => ({
  data: xy(p),
  showLine: true,
  borderColor: color,
  borderWidth: w,
  pointRadius: 0,
  tension: 0.15,
  fill: false,
  order: 0,
});

function residMaker(
  ctrl: Pt[], pd: Pt[], ctrlFit: Pt[], pdFit: Pt[], xr: [number, number], yr: [number, number], xt: number[],
) {
  return (pad: Pad) => ({
    type: 'scatter',
    data: {
      datasets: [
        dots(ctrl, BLUE, 4.3, 1.5, 2),
        dots(pd, RED, 4.3, 1.5, 1),
        fit(ctrlFit, NAVY, 4),
        fit(pdFit, CRIMSON, 4),
      ],
    },
    options: baseOptions(
      { x: linX(xr[0], xr[1], xt, xt.map(String), pad, 18, 5), y: linY(yr[0], yr[1], bYTicks, pad) },
      pad,
    ),
    plugins: [yLabelPlugin(bYTicks, bYLabels, 13, 17)],
  });
}

function barMaker(mean: number[], lo: number[], hi: number[], yr: [number, number], yt: number[], yl: string[]) {
  return (pad: Pad) => ({
    type: 'bar',
    data: {
      datasets: [
        {
          data: hyStage.map((x, i) => ({ x, y: mean[i] })),
          backgroundColor: BAR,
          borderColor: BAR_EDGE,
          borderWidth: 1,
          borderSkipped: false,
          barThickness: 34,
        },
      ],
    },
    options: baseOptions(
      { x: linX(0.757, 3.743, hyTicks, hyLabels, pad, 16, 6), y: linY(yr[0], yr[1], yt, pad) },
      pad,
    ),
    plugins: [errPlugin(lo, hi), yLabelPlugin(yt, yl, 9.5, 17)],
  });
}

function updrsMaker(pts: Pt[], fitPts: Pt[], xr: [number, number], yr: [number, number], yt: number[], yl: string[]) {
  return (pad: Pad) => ({
    type: 'scatter',
    data: { datasets: [dots(pts, DBLUE, 3.9, 1.4, 1), fit(fitPts, NAVY, 4)] },
    options: baseOptions(
      { x: linX(xr[0], xr[1], updrsTicks, updrsLabels, pad, 17, 5.5), y: linY(yr[0], yr[1], yt, pad) },
      pad,
    ),
    plugins: [yLabelPlugin(yt, yl, 11, 17)],
  });
}

// ---------------- text overlay ----------------
type TxtP = {
  x: number; y: number; s: string; size: number; anchor?: 'start' | 'middle' | 'end'; family?: string; weight?: number;
  rot?: number; len?: number; fill?: string;
};
function Txt({ x, y, s, size, anchor = 'middle', family = FONT, weight = 400, rot = 0, len, fill = '#111' }: TxtP) {
  const extra: any = len ? { textLength: len, lengthAdjust: 'spacingAndGlyphs' } : {};
  return (
    <text
      x={rot ? 0 : x}
      y={rot ? 0 : y}
      transform={rot ? `translate(${x},${y}) rotate(${rot})` : undefined}
      fontFamily={family}
      fontSize={size}
      fontWeight={weight}
      textAnchor={anchor}
      fill={fill}
      {...extra}
    >
      {s}
    </text>
  );
}

const padBox: Pad = { l: 50, r: 4, t: 8, b: 40 };
const padFacet: Pad = { l: 0, r: 4, t: 8, b: 40 };
const padB: Pad = { l: 40, r: 6, t: 6, b: 40 };
const padC: Pad = { l: 40, r: 6, t: 6, b: 36 };
const padD: Pad = { l: 40, r: 6, t: 6, b: 40 };

export default function App() {
  useEffect(() => {
    document.body.style.margin = '0';
    document.body.style.overflow = 'hidden';
    document.body.style.background = '#ffffff';
  }, []);

  const paraUpAll: Pt[] = [...paraUpPts, ...paraUpZeroX.map((x) => [x, 0] as Pt)];
  const peptoAll: Pt[] = [...peptoPts, ...peptoZeroX.map((x) => [x, 0] as Pt)];

  return (
    <div style={{ position: 'absolute', left: 0, top: 0, width: 1946, height: 1379, background: '#fff', overflow: 'hidden' }}>
      {/* Panel A */}
      <ChartBox area={{ x: 131, y: 141, w: 158, h: 493 }} pad={padBox}
        make={boxMaker(sexCats, paraCtrlQ1, paraCtrlMed, paraCtrlQ3, paraCtrlLo, paraCtrlHi, paraCtrlOut, true)} />
      <ChartBox area={{ x: 305, y: 141, w: 158, h: 493 }} pad={padFacet}
        make={boxMaker(sexCats, paraPdQ1, paraPdMed, paraPdQ3, paraPdLo, paraPdHi, paraPdOut, false)} />
      <ChartBox area={{ x: 579, y: 141, w: 157, h: 493 }} pad={padBox}
        make={boxMaker(constCats, bifCtrlQ1, bifCtrlMed, bifCtrlQ3, bifCtrlLo, bifCtrlHi, bifCtrlOut, true)} />
      <ChartBox area={{ x: 752, y: 141, w: 159, h: 493 }} pad={padFacet}
        make={boxMaker(constCats, bifPdQ1, bifPdMed, bifPdQ3, bifPdLo, bifPdHi, bifPdOut, false)} />

      {/* Panel B */}
      <ChartBox area={{ x: 1045, y: 103, w: 233, h: 459 }} pad={padB}
        make={residMaker(anaeroCtrl, anaeroPd, anaeroCtrlFit, anaeroPdFit, [47.93, 93.04], [-2.226, 6.414], ageTicks)} />
      <ChartBox area={{ x: 1365, y: 103, w: 230, h: 459 }} pad={padB}
        make={residMaker(roseCtrl, rosePd, roseCtrlFit, rosePdFit, [48.03, 93.28], [-2.22, 6.189], ageTicks)} />
      <ChartBox area={{ x: 1677, y: 103, w: 233, h: 459 }} pad={padB}
        make={residMaker(paraBmiCtrl, paraBmiPd, paraBmiCtrlFit, paraBmiPdFit, [13.26, 50.17], [-2.22, 6.189], bmiTicks)} />

      {/* Panel C */}
      <ChartBox area={{ x: 127, y: 778, w: 343, h: 504 }} pad={padC}
        make={barMaker(paraHYMean, paraHYLo, paraHYHi, [-0.000447, 0.020447], cParaYTicks, cParaYLabels)} />
      <ChartBox area={{ x: 574, y: 778, w: 343, h: 504 }} pad={padC}
        make={barMaker(biloHYMean, biloHYLo, biloHYHi, [-0.000224, 0.010224], cBiloYTicks, cBiloYLabels)} />

      {/* Panel D */}
      <ChartBox area={{ x: 1062, y: 771, w: 198, h: 497 }} pad={padD}
        make={updrsMaker(flavoPts, flavoFit, [-5.47, 87.0], [-0.000537, 0.02248], dFlavoYTicks, dFlavoYLabels)} />
      <ChartBox area={{ x: 1357, y: 769, w: 203, h: 499 }} pad={padD}
        make={updrsMaker(paraUpAll, paraUpFit, [-5.4, 88.1], [-0.00138, 0.06158], dParaYTicks, dParaYLabels)} />
      <ChartBox area={{ x: 1662, y: 767, w: 195, h: 501 }} pad={padD}
        make={updrsMaker(peptoAll, peptoFit, [-5.5, 87.2], [-0.0000497, 0.0020986], dPeptoYTicks, dPeptoYLabels)} />

      <svg width={1946} height={1379} style={{ position: 'absolute', left: 0, top: 0, pointerEvents: 'none' }}>
        {/* panel letters */}
        <Txt x={1} y={36} s="A" size={40} anchor="start" family={CAL} weight={700} />
        <Txt x={988} y={34} s="B" size={40} anchor="start" family={CAL} weight={700} />
        <Txt x={4} y={732} s="C" size={40} anchor="start" family={CAL} weight={700} />
        <Txt x={988} y={743} s="D" size={40} anchor="start" family={CAL} weight={700} />

        {/* panel A */}
        <Txt x={282} y={96} s="Paraprevotella" size={34.5} len={224} />
        <Txt x={730} y={96} s="Bifidobacterium" size={34.5} len={241} />
        <rect x={131} y={114} width={158} height={26} fill={STRIP} />
        <rect x={305} y={114} width={158} height={26} fill={STRIP} />
        <rect x={579} y={114} width={157} height={26} fill={STRIP} />
        <rect x={752} y={114} width={159} height={26} fill={STRIP} />
        <Txt x={210} y={134.5} s="Control" size={21} len={68} fill="#222" />
        <Txt x={384} y={134.5} s="PD" size={21} len={29} fill="#222" />
        <Txt x={658} y={134.5} s="Control" size={21} len={67} fill="#222" />
        <Txt x={832} y={134.5} s="PD" size={21} len={28} fill="#222" />
        <Txt x={89.5} y={389.5} s="Relative Abundance" size={34.5} rot={-90} len={311} />
        <Txt x={538} y={389.5} s="Relative Abundance" size={34.5} rot={-90} len={311} />
        <Txt x={740} y={699} s="Constipation" size={24} family={CAL} len={140} fill="#222" />

        {/* panel B */}
        <Txt x={1162} y={95} s="Anaerotruncus" size={29} len={190} />
        <Txt x={1479.5} y={95} s="Roseburia" size={29} len={133} />
        <Txt x={1794} y={95} s="Paraprevotella" size={29} len={189} />
        <Txt x={1007} y={323.5} s="Standardized residual abundance" size={29.3} rot={-90} len={437} />
        <Txt x={1324.5} y={326} s="Standardized residual abundance" size={29.3} rot={-90} len={437} />
        <Txt x={1626.5} y={325.6} s="Standardized residual abundance" size={29.3} rot={-90} len={437} />
        <Txt x={1161.5} y={622.5} s="Age" size={36.5} len={65} />
        <Txt x={1479} y={622.5} s="Age" size={36.5} len={65} />
        <Txt x={1793} y={622.5} s="BMI" size={36.5} len={65} />
        <line x1={1033} y1={661.7} x2={1090} y2={661.7} stroke={NAVY} strokeWidth={3.5} />
        <line x1={1033} y1={691} x2={1090} y2={691} stroke={CRIMSON} strokeWidth={3.5} />
        <Txt x={1126} y={667} s="Controls" size={18} anchor="start" len={72} fill="#333" />
        <Txt x={1126} y={697} s="PD" size={18} anchor="start" len={26} fill="#333" />
        <Txt x={1921} y={667} s="All interaction terms p<0.05" size={23} anchor="end" family={CAL} len={339} fill="#111" />
        <Txt x={1921} y={701} s="Residuals corrected for batch effect and reads counts" size={24} anchor="end" family={CAL} len={649} fill="#111" />

        {/* panel C */}
        <Txt x={298} y={768} s="Paraprevotella" size={34.5} len={224.5} />
        <Txt x={746} y={768} s="Bilophila" size={34.5} len={131} />
        <Txt x={92.5} y={1030} s="Relative abundance" size={34.5} rot={-90} len={310} />
        <Txt x={541} y={1030} s="Relative abundance" size={34.5} rot={-90} len={310} />
        <Txt x={298.5} y={1337} s="Hoehn and Yahr Staging" size={27.4} len={300} />
        <Txt x={746} y={1337} s="Hoehn and Yahr Staging" size={27.4} len={302} />

        {/* panel D */}
        <Txt x={1169} y={762} s="Flavonifractor" size={35} len={212} />
        <Txt x={1465} y={762} s="Paraprevotella" size={35} len={224} />
        <Txt x={1760} y={766} s="Peptococcus" size={35} len={200} />
        <Txt x={1026} y={1021.5} s="Relative abundance" size={35} rot={-90} len={310} />
        <Txt x={1312} y={1017} s="Relative abundance" size={35} rot={-90} len={310} />
        <Txt x={1620} y={1018} s="Relative abundance" size={35} rot={-90} len={310} />
        <Txt x={1165.7} y={1347} s="UPDRS III" size={34.8} len={160.6} />
        <Txt x={1458.5} y={1347} s="UPDRS III" size={34.8} len={159} />
        <Txt x={1760.7} y={1352} s="UPDRS III" size={34.8} len={159} />
      </svg>
    </div>
  );
}
